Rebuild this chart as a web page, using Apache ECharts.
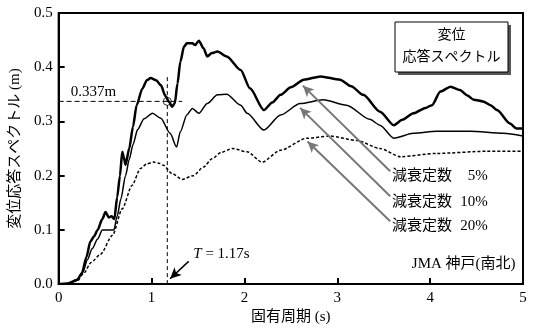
<!DOCTYPE html>
<html><head><meta charset="utf-8">
<script src="https://cdn.jsdelivr.net/npm/echarts@6/dist/echarts.min.js"></script>
<style>html,body{margin:0;padding:0;background:#fff}#c{width:535px;height:330px}</style>
</head><body><div id="c"></div>
<script>
// ---- data ----
const xTicks = [0, 1, 2, 3, 4, 5];
const yTicks = ['0.0', '0.1', '0.2', '0.3', '0.4', '0.5'];
const damp5 = [[0,0],[0.1,0.001],[0.2,0.008],[0.25,0.02],[0.3,0.05],[0.34,0.078],[0.38,0.088],[0.42,0.1],[0.47,0.12],[0.505,0.133],[0.54,0.123],[0.57,0.125],[0.6,0.12],[0.63,0.16],[0.66,0.2],[0.685,0.244],[0.7,0.235],[0.72,0.22],[0.76,0.25],[0.8,0.29],[0.84,0.33],[0.9,0.36],[0.95,0.376],[0.99,0.38],[1.05,0.376],[1.1,0.367],[1.15,0.347],[1.19,0.336],[1.22,0.327],[1.25,0.333],[1.28,0.37],[1.31,0.41],[1.35,0.438],[1.38,0.444],[1.44,0.444],[1.47,0.441],[1.51,0.449],[1.56,0.435],[1.6,0.42],[1.65,0.426],[1.71,0.429],[1.81,0.42],[1.96,0.395],[2.06,0.361],[2.21,0.321],[2.3,0.335],[2.39,0.349],[2.5,0.363],[2.64,0.377],[2.82,0.383],[3.03,0.377],[3.15,0.365],[3.28,0.349],[3.46,0.318],[3.61,0.293],[3.7,0.303],[3.82,0.315],[3.95,0.325],[4.02,0.33],[4.11,0.355],[4.22,0.364],[4.32,0.358],[4.4,0.348],[4.47,0.34],[4.57,0.337],[4.65,0.33],[4.72,0.321],[4.86,0.296],[4.93,0.287],[5,0.287]];
const damp10 = [[0,0],[0.1,0.001],[0.2,0.008],[0.26,0.022],[0.31,0.045],[0.36,0.065],[0.42,0.083],[0.47,0.1],[0.54,0.1],[0.595,0.1],[0.63,0.125],[0.67,0.157],[0.72,0.2],[0.76,0.23],[0.8,0.257],[0.85,0.285],[0.92,0.305],[1.01,0.315],[1.1,0.306],[1.2,0.278],[1.27,0.253],[1.31,0.281],[1.38,0.312],[1.44,0.324],[1.51,0.315],[1.6,0.333],[1.71,0.349],[1.81,0.35],[1.96,0.33],[2.03,0.315],[2.21,0.284],[2.39,0.312],[2.6,0.333],[2.85,0.34],[3.1,0.33],[3.35,0.304],[3.46,0.293],[3.61,0.269],[3.82,0.278],[4.07,0.282],[4.43,0.282],[4.79,0.278],[5,0.273]];
const damp20 = [[0,0],[0.1,0.001],[0.2,0.006],[0.27,0.02],[0.35,0.04],[0.45,0.055],[0.58,0.09],[0.685,0.139],[0.79,0.182],[0.88,0.213],[0.95,0.222],[1.02,0.225],[1.08,0.223],[1.13,0.219],[1.22,0.204],[1.33,0.193],[1.45,0.2],[1.56,0.216],[1.65,0.231],[1.75,0.243],[1.87,0.25],[2.03,0.244],[2.19,0.225],[2.39,0.247],[2.67,0.269],[2.92,0.273],[3.21,0.265],[3.46,0.25],[3.68,0.235],[4.07,0.241],[4.61,0.245],[5,0.245]];
const periodT = 1.17;
const dispSd = 0.337;
const hGuide = [[0, dispSd], [1.33, dispSd]];
const vGuide = [[periodT, 0], [periodT, 0.387]];
const point = [[periodT, dispSd]];
const labelDamp = ['減衰定数', '減衰定数', '減衰定数'];
const labelPct = ['5%', '10%', '20%'];
const arrowFrom = [[3.57, 0.208], [3.57, 0.162], [3.57, 0.116]];
const arrowTo = [[2.63, 0.366], [2.6, 0.325], [2.68, 0.263]];
const tArrow = [[1.40, 0.042], [1.20, 0.01]];

const SERIF = "'Liberation Serif','Noto Sans CJK JP',serif";
const chart = echarts.init(document.getElementById('c'), null, {renderer: 'canvas'});
const markData = arrowFrom.map((f, i) => [{coord: f}, {coord: arrowTo[i]}]);
markData.push([{coord: tArrow[0], lineStyle: {color: '#000', width: 1.5}}, {coord: tArrow[1]}]);
const curve = {type: 'line', showSymbol: false, silent: true, smooth: 0.25, smoothMonotone: 'x'};

chart.setOption({
  animation: false,
  grid: {left: 58, right: 12, top: 13, bottom: 45, show: true, borderColor: '#000', borderWidth: 2, backgroundColor: 'transparent'},
  xAxis: {
    type: 'value', min: 0, max: 5, interval: 1,
    name: '固有周期 (s)', nameLocation: 'middle', nameGap: 22,
    nameTextStyle: {fontFamily: SERIF, fontSize: 15, color: '#000'},
    axisLine: {lineStyle: {color: '#000', width: 2}},
    axisTick: {inside: true, length: 6, lineStyle: {color: '#000', width: 2}},
    axisLabel: {fontFamily: SERIF, fontSize: 15, color: '#000', margin: 6, formatter: v => String(xTicks[Math.round(v)])},
    splitLine: {show: false}
  },
  yAxis: {
    type: 'value', min: 0, max: 0.5, interval: 0.1,
    name: '変位応答スペクトル (m)', nameLocation: 'middle', nameGap: 29,
    nameTextStyle: {fontFamily: SERIF, fontSize: 15, color: '#000'},
    axisLine: {show: true, lineStyle: {color: '#000', width: 2}},
    axisTick: {show: true, inside: true, length: 6, lineStyle: {color: '#000', width: 2}},
    axisLabel: {fontFamily: SERIF, fontSize: 15, color: '#000', margin: 6, formatter: v => yTicks[Math.round(v * 10)]},
    splitLine: {show: false}
  },
  series: [
    Object.assign({}, curve, {data: damp5, lineStyle: {color: '#000', width: 2.5}}),
    Object.assign({}, curve, {data: damp10, lineStyle: {color: '#000', width: 1.5}}),
    Object.assign({}, curve, {data: damp20, lineStyle: {color: '#000', width: 1.5, type: [3, 2]}}),
    {type: 'line', data: hGuide, showSymbol: false, silent: true, lineStyle: {color: '#000', width: 1, type: [5, 3]}},
    {type: 'line', data: vGuide, showSymbol: false, silent: true, lineStyle: {color: '#000', width: 1, type: [4, 3]}},
    {type: 'scatter', data: point, symbol: 'circle', symbolSize: 8, silent: true, itemStyle: {color: 'rgba(0,0,0,0)', borderColor: '#000', borderWidth: 1}},
    {type: 'line', data: [], silent: true,
     markLine: {silent: true, symbol: ['none', 'arrow'], symbolSize: [8, 11], label: {show: false},
       lineStyle: {color: '#777', width: 2, type: 'solid'}, emphasis: {disabled: true}, data: markData}}
  ]
});

function px(p) { return chart.convertToPixel({gridIndex: 0}, p); }
const t = (pos, text, extra) => Object.assign({type: 'text', x: pos[0], y: pos[1], style: Object.assign({text: text, fontFamily: SERIF, fontSize: 15, fill: '#000', verticalAlign: 'middle'}, extra || {})});
const g = [];
g.push(t(px([0.13, 0.355]), dispSd + 'm', {align: 'left'}));
const tPos = px([1.45, 0.055]);
g.push({type: 'text', x: tPos[0], y: tPos[1], style: {rich: {i: {fontFamily: SERIF, fontStyle: 'italic', fontSize: 15, fill: '#000'}, n: {fontFamily: SERIF, fontSize: 15, fill: '#000'}}, text: '{i|T}{n| = ' + periodT + 's}', verticalAlign: 'middle', align: 'left'}});
const labY = [0.1995, 0.151, 0.107];
labelDamp.forEach((s, i) => {
  g.push(t(px([3.59, labY[i]]), s, {align: 'left'}));
  g.push(t(px([4.62, labY[i]]), labelPct[i], {align: 'right'}));
});
g.push(t(px([4.92, 0.037]), 'JMA 神戸(南北)', {align: 'right'}));
// title box
g.push({type: 'rect', shape: {x: 398, y: 25, width: 113, height: 50}, style: {fill: '#555'}});
g.push({type: 'rect', shape: {x: 395, y: 22, width: 113, height: 50}, style: {fill: '#fff', stroke: '#000', lineWidth: 1}});
g.push({type: 'text', x: 451.5, y: 35.5, style: {text: '変位', fontFamily: SERIF, fontSize: 14, fill: '#000', align: 'center', verticalAlign: 'middle'}});
g.push({type: 'text', x: 451.5, y: 57, style: {text: '応答スペクトル', fontFamily: SERIF, fontSize: 14, fill: '#000', align: 'center', verticalAlign: 'middle'}});
chart.setOption({graphic: g});
</script></body></html>
